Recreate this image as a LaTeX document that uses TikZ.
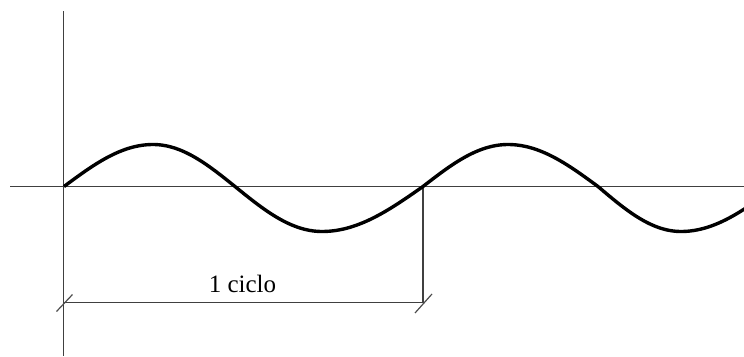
\documentclass[tikz,border=0pt]{standalone}
\usepackage{fontspec}
\setmainfont{Liberation Serif}
\tikzset{
  axis/.style={draw=black!75, line width=1.7pt},
  dimline/.style={draw=black!75, line width=1.6pt},
  tickmark/.style={draw=black!70, line width=1.2pt},
  wave/.style={draw=black, line width=3.4pt, line join=round},
  lbl/.style={font=\fontsize{25}{30}\selectfont, inner sep=0pt}
}
\begin{document}
\begin{tikzpicture}[x=1pt,y=-1pt]
\useasboundingbox (0,0) rectangle (744,356);
\coordinate (vtop) at (63.5,11);
\coordinate (vbot) at (63.5,356);
\coordinate (hl) at (10,186.5);
\coordinate (hr) at (744,186.5);
\coordinate (dl) at (63.5,302.5);
\coordinate (dr) at (423,302.5);
\coordinate (cz) at (423,186.5);
\coordinate (t1a) at (56.5,311.5);
\coordinate (t1b) at (72.5,294.5);
\coordinate (t2a) at (415,313);
\coordinate (t2b) at (432,294);
% axes
\draw[axis] (vtop) -- (vbot);
\draw[axis] (hl) -- (hr);
% dimension
\draw[dimline] (cz) -- (dr);
\draw[dimline] (dl) -- (dr);
\draw[tickmark] (t1a) -- (t1b);
\draw[tickmark] (t2a) -- (t2b);
\node[lbl] (label) at (242.5,284) {1 ciclo};
% wave
\begin{scope}
\clip (0,0) rectangle (744,356);
\draw[wave]
  plot[domain=0:90, samples=30, variable=\t] ({64+89*\t/90}, {186.5-42*sin(\t)})
  -- plot[domain=0:90, samples=30, variable=\t] ({153+82*\t/90}, {186.5-42*cos(\t)})
  -- plot[domain=0:90, samples=30, variable=\t] ({235+87*\t/90}, {186.5+45*sin(\t)})
  -- plot[domain=0:90, samples=30, variable=\t] ({322+101*\t/90}, {186.5+45*cos(\t)})
  -- plot[domain=0:90, samples=30, variable=\t] ({423+85*\t/90}, {186.5-42*sin(\t)})
  -- plot[domain=0:90, samples=30, variable=\t] ({508+90*\t/90}, {186.5-42*cos(\t)})
  -- plot[domain=0:90, samples=30, variable=\t] ({598+83*\t/90}, {186.5+45*sin(\t)})
  -- plot[domain=0:90, samples=30, variable=\t] ({681+95*\t/90}, {186.5+45*cos(\t)});
\end{scope}
\end{tikzpicture}
\end{document}
